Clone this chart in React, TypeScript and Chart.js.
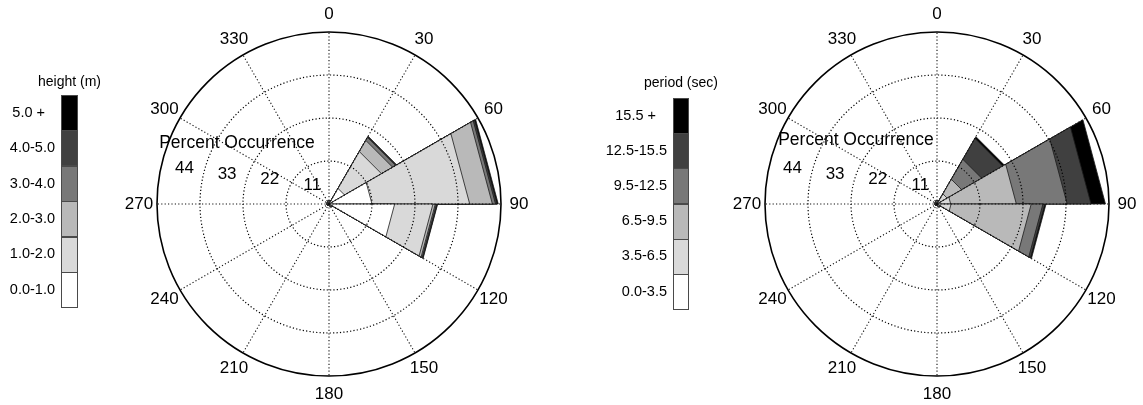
import React, { useEffect, useRef } from "react";
import { Chart, registerables } from "chart.js";

Chart.register(...registerables);

// ---------- shared axis content ----------
const directionLabels = ["0", "30", "60", "90", "120", "150", "180", "210", "240", "270", "300", "330"];
const radialTickValues = [11, 22, 33, 44];
const radialMax = 44;
const axisTitle = "Percent Occurrence";
const binColors = ["#ffffff", "#d9d9d9", "#b9b9b9", "#787878", "#404040", "#000000"];

// ---------- wave height rose (percent per 30° sector, sector i spans label i .. i+1) ----------
const heightTitle = "height (m)";
const heightBins = ["0.0-1.0", "1.0-2.0", "2.0-3.0", "3.0-4.0", "4.0-5.0", "5.0 +"];
const height0to1 = [0.5, 4.6, 11.0, 16.8, 0.5, 0.3, 0.3, 0.3, 0.3, 0.4, 0.4, 0.5];
const height1to2 = [0.3, 10.9, 25.0, 9.8, 0.3, 0.2, 0.1, 0.1, 0.2, 0.2, 0.2, 0.3];
const height2to3 = [0.0, 3.3, 5.8, 0.6, 0.1, 0.0, 0.0, 0.0, 0.0, 0.0, 0.0, 0.0];
const height3to4 = [0.0, 0.9, 0.8, 0.3, 0.0, 0.0, 0.0, 0.0, 0.0, 0.0, 0.0, 0.0];
const height4to5 = [0.0, 0.2, 0.4, 0.2, 0.0, 0.0, 0.0, 0.0, 0.0, 0.0, 0.0, 0.0];
const height5plus = [0.0, 0.1, 0.3, 0.1, 0.0, 0.0, 0.0, 0.0, 0.0, 0.0, 0.0, 0.0];

// ---------- wave period rose ----------
const periodTitle = "period (sec)";
const periodBins = ["0.0-3.5", "3.5-6.5", "6.5-9.5", "9.5-12.5", "12.5-15.5", "15.5 +"];
const period0to35 = [0.4, 0.2, 0.2, 0.2, 0.3, 0.2, 0.2, 0.2, 0.2, 0.3, 0.3, 0.3];
const period35to65 = [0.4, 2.8, 3.3, 3.4, 0.5, 0.3, 0.2, 0.2, 0.3, 0.3, 0.3, 0.5];
const period65to95 = [0.0, 4.3, 16.8, 20.5, 0.1, 0.0, 0.0, 0.0, 0.0, 0.0, 0.0, 0.0];
const period95to125 = [0.0, 5.9, 13.0, 3.0, 0.0, 0.0, 0.0, 0.0, 0.0, 0.0, 0.0, 0.0];
const period125to155 = [0.0, 6.2, 6.1, 0.5, 0.0, 0.0, 0.0, 0.0, 0.0, 0.0, 0.0, 0.0];
const period155plus = [0.0, 0.5, 3.7, 0.3, 0.0, 0.0, 0.0, 0.0, 0.0, 0.0, 0.0, 0.0];

const FONT = '"Liberation Sans", Arial, Helvetica, sans-serif';

function cumulate(series: number[][]): number[][] {
  const out: number[][] = [];
  let acc = series[0].map(() => 0);
  for (const s of series) {
    acc = acc.map((a, i) => a + s[i]);
    out.push(acc.slice());
  }
  return out;
}

type RoseProps = {
  series: number[][];
  canvasLeft: number;
  canvasWidth: number;
  padLeft: number;
  titleDx: number;
  titleDy: number;
};

function RoseChart({ series, canvasLeft, canvasWidth, padLeft, titleDx, titleDy }: RoseProps) {
  const ref = useRef<HTMLCanvasElement | null>(null);
  useEffect(() => {
    if (!ref.current) return;
    const cum = cumulate(series);
    const side = 344;
    const padTop = 32;
    const labelPlugin = {
      id: "roseLabels",
      afterDraw(chart: any) {
        const scale = chart.scales.r;
        const ctx = chart.ctx;
        ctx.save();
        ctx.fillStyle = "#000";
        ctx.textAlign = "center";
        ctx.textBaseline = "middle";
        ctx.font = `17px ${FONT}`;
        directionLabels.forEach((lab, i) => {
          const p = scale.getPointPosition(i, scale.drawingArea + 18);
          ctx.fillText(lab, p.x, p.y);
        });
        const a = (7.5 * Math.PI) / 180;
        radialTickValues.forEach((v) => {
          const r = scale.getDistanceFromCenterForValue(v);
          ctx.fillText(String(v), scale.xCenter - r * Math.cos(a) + 26, scale.yCenter - r * Math.sin(a) - 13);
        });
        ctx.font = `17.5px ${FONT}`;
        ctx.fillText(axisTitle, scale.xCenter + titleDx, scale.yCenter + titleDy);
        ctx.restore();
      },
    };
    const chart = new Chart(ref.current, {
      type: "polarArea",
      data: {
        labels: directionLabels,
        datasets: cum.map((d, k) => ({
          data: d,
          backgroundColor: binColors[k],
          borderColor: "#1a1a1a",
          borderWidth: 0.8,
          circular: false,
        })) as any,
      },
      options: {
        responsive: false,
        animation: false,
        layout: {
          padding: {
            left: padLeft,
            top: padTop,
            right: canvasWidth - padLeft - side,
            bottom: 405 - padTop - side,
          },
        },
        plugins: { legend: { display: false }, tooltip: { enabled: false } },
        scales: {
          r: {
            min: 0,
            max: radialMax,
            startAngle: 0,
            ticks: { display: false, stepSize: 11 },
            pointLabels: { display: false },
            grid: {
              circular: true,
              z: 1,
              color: "#000",
              lineWidth: (c: any) => (c.tick && c.tick.value === radialMax ? 1.6 : 1.2),
            },
            border: {
              dash: (c: any) => (c.tick && c.tick.value === radialMax ? [] : [1.2, 2.2]),
            },
            angleLines: { display: true, color: "#111", lineWidth: 1.1, borderDash: [1.2, 2.2] },
          },
        } as any,
      },
      plugins: [labelPlugin],
    });
    return () => chart.destroy();
  }, []);
  return (
    <canvas
      ref={ref}
      width={canvasWidth}
      height={405}
      style={{ position: "absolute", left: canvasLeft, top: 0, width: canvasWidth, height: 405 }}
    />
  );
}

type LegendProps = {
  title: string;
  bins: string[];
  barLeft: number;
  barTop: number;
  barWidth: number;
  blockHeight: number;
  titleY: number;
  topLabelShift: number;
};

function ColorLegend({ title, bins, barLeft, barTop, barWidth, blockHeight, titleY, topLabelShift }: LegendProps) {
  const rows = bins.map((b, i) => ({ label: b, color: binColors[i] })).reverse();
  return (
    <>
      <div
        style={{
          position: "absolute",
          left: barLeft + barWidth / 2 - 70,
          width: 140,
          top: titleY - 9,
          height: 18,
          lineHeight: "18px",
          textAlign: "center",
          font: `14px ${FONT}`,
          whiteSpace: "nowrap",
        }}
      >
        {title}
      </div>
      {rows.map((r, j) => (
        <React.Fragment key={j}>
          <div
            style={{
              position: "absolute",
              left: barLeft,
              top: Math.round(barTop + j * blockHeight),
              width: barWidth,
              height: Math.round(blockHeight) + 1,
              background: r.color,
              boxSizing: "border-box",
              border: "1px solid #4a4a4a",
            }}
          />
          <div
            style={{
              position: "absolute",
              right: 1143 - (barLeft - 6 - (j === 0 ? topLabelShift : 0)),
              top: barTop + j * blockHeight + blockHeight / 2 - 9,
              height: 18,
              lineHeight: "18px",
              font: `14.5px ${FONT}`,
              whiteSpace: "nowrap",
              textAlign: "right",
            }}
          >
            {r.label}
          </div>
        </React.Fragment>
      ))}
    </>
  );
}

export default function App() {
  const heightSeries = [height0to1, height1to2, height2to3, height3to4, height4to5, height5plus];
  const periodSeries = [period0to35, period35to65, period65to95, period95to125, period125to155, period155plus];
  return (
    <div
      style={{
        position: "absolute",
        left: 0,
        top: 0,
        width: 1143,
        height: 405,
        background: "#fff",
        overflow: "hidden",
        color: "#000",
      }}
    >
      <RoseChart series={heightSeries} canvasLeft={0} canvasWidth={571} padLeft={157} titleDx={-92} titleDy={-61} />
      <RoseChart series={periodSeries} canvasLeft={571} canvasWidth={572} padLeft={194} titleDx={-81} titleDy={-64} />
      <ColorLegend
        title={heightTitle}
        bins={heightBins}
        barLeft={61}
        barTop={95}
        barWidth={17}
        blockHeight={35.4}
        titleY={82}
        topLabelShift={10}
      />
      <ColorLegend
        title={periodTitle}
        bins={periodBins}
        barLeft={673}
        barTop={98}
        barWidth={16}
        blockHeight={35.2}
        titleY={83}
        topLabelShift={11}
      />
    </div>
  );
}
